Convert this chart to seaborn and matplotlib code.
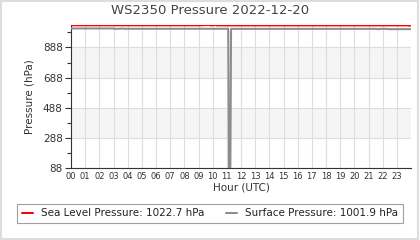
import matplotlib
matplotlib.use("Agg")
import matplotlib.pyplot as plt
import seaborn as sns
import pandas as pd
from matplotlib.patches import Rectangle
from matplotlib.ticker import FixedLocator

# ---- data ----
slp_hours = [0, 9.3, 9.35, 9.75, 9.8, 10.0, 10.05, 10.25, 10.3, 23.75, 23.8, 23.95]
slp_values = [1035, 1035, 1036.5, 1036.5, 1035, 1035, 1036.5, 1036.5, 1034.5, 1034.5, 1033, 1033]

sp_hours = [0, 3.0, 3.05, 3.5, 3.55, 3.7, 3.75, 11.1, 11.15, 11.25, 11.3,
            21.6, 21.65, 21.75, 21.8, 22.3, 22.35, 24.0]
sp_values = [1014, 1014, 1012, 1012, 1013.5, 1013.5, 1012, 1012, 88, 88, 1011.5,
             1011.5, 1009, 1009, 1011.5, 1011.5, 1009.5, 1009.5]

hour_labels = [f"{h:02d}" for h in range(24)]
y_major = [88, 288, 488, 688, 888]
y_minor = [188, 388, 588, 788, 988]
slp_label = "Sea Level Pressure: 1022.7 hPa"
sp_label = "Surface Pressure: 1001.9 hPa"
title = "WS2350 Pressure 2022-12-20"

sns.set_style("white")
plt.rcParams['font.family'] = ['DejaVu Sans']

fig = plt.figure(figsize=(4.2, 2.4), dpi=100)
ax = fig.add_axes([71/420, 1-168/240, 340/420, 143/240])

# alternating bands
ax.axhspan(688, 888, color="#f5f5f5", zorder=0, lw=0)
ax.axhspan(288, 488, color="#f5f5f5", zorder=0, lw=0)

slp_df = pd.DataFrame({"hour": slp_hours, "p": slp_values})
sp_df = pd.DataFrame({"hour": sp_hours, "p": sp_values})
sns.lineplot(data=sp_df, x="hour", y="p", ax=ax, color="#8c8c8c", lw=1.45,
             label=sp_label, zorder=3)
sns.lineplot(data=slp_df, x="hour", y="p", ax=ax, color="#ff0000", lw=1.45,
             label=slp_label, zorder=4)

ax.set_xlim(0, 24)
ax.set_ylim(88, 1037)
ax.xaxis.set_major_locator(FixedLocator(list(range(24))))
ax.set_xticklabels(hour_labels, fontsize=6, color="#333333")
ax.yaxis.set_major_locator(FixedLocator(y_major))
ax.yaxis.set_minor_locator(FixedLocator(y_minor))
ax.set_yticklabels([str(v) for v in y_major], fontsize=7.5, color="#333333")
ax.tick_params(axis="x", length=0, pad=3)
ax.tick_params(axis="y", which="major", length=4, width=0.8, color="#333333", left=True, pad=2)
ax.tick_params(axis="y", which="minor", length=3, width=0.8, color="#333333", left=True)
ax.grid(True, which="major", color="#dddddd", lw=0.8, zorder=1)
ax.set_axisbelow(True)
for s in ["top", "right"]:
    ax.spines[s].set_visible(False)
for s in ["left", "bottom"]:
    ax.spines[s].set_color("#333333")
    ax.spines[s].set_linewidth(0.8)

ax.set_xlabel("Hour (UTC)", fontsize=7.5, color="#333333", labelpad=1)
ax.set_ylabel("Pressure (hPa)", fontsize=7.5, color="#333333", labelpad=6)
fig.text(0.5, 1-11/240, title, ha="center", va="center", fontsize=9.5, color="#444444")

ax.get_legend().remove()
handles, labels = ax.get_legend_handles_labels()
order = [1, 0]
leg = fig.legend([handles[i] for i in order], [labels[i] for i in order],
                 loc="center", bbox_to_anchor=(0.5, 1-213.5/240), ncol=2,
                 fontsize=7.5, frameon=True, fancybox=False, edgecolor="#888888",
                 handlelength=1.05, handletextpad=0.8, columnspacing=2.1,
                 borderpad=0.45, borderaxespad=0)
leg.get_frame().set_linewidth(0.8)
for t in leg.get_texts():
    t.set_color("#222222")

fig.patches.append(Rectangle((0.002, 0.004), 0.993, 0.992, transform=fig.transFigure,
                             fill=False, edgecolor="#dddddd", lw=1.5))

fig.savefig("out.png", dpi=100)
